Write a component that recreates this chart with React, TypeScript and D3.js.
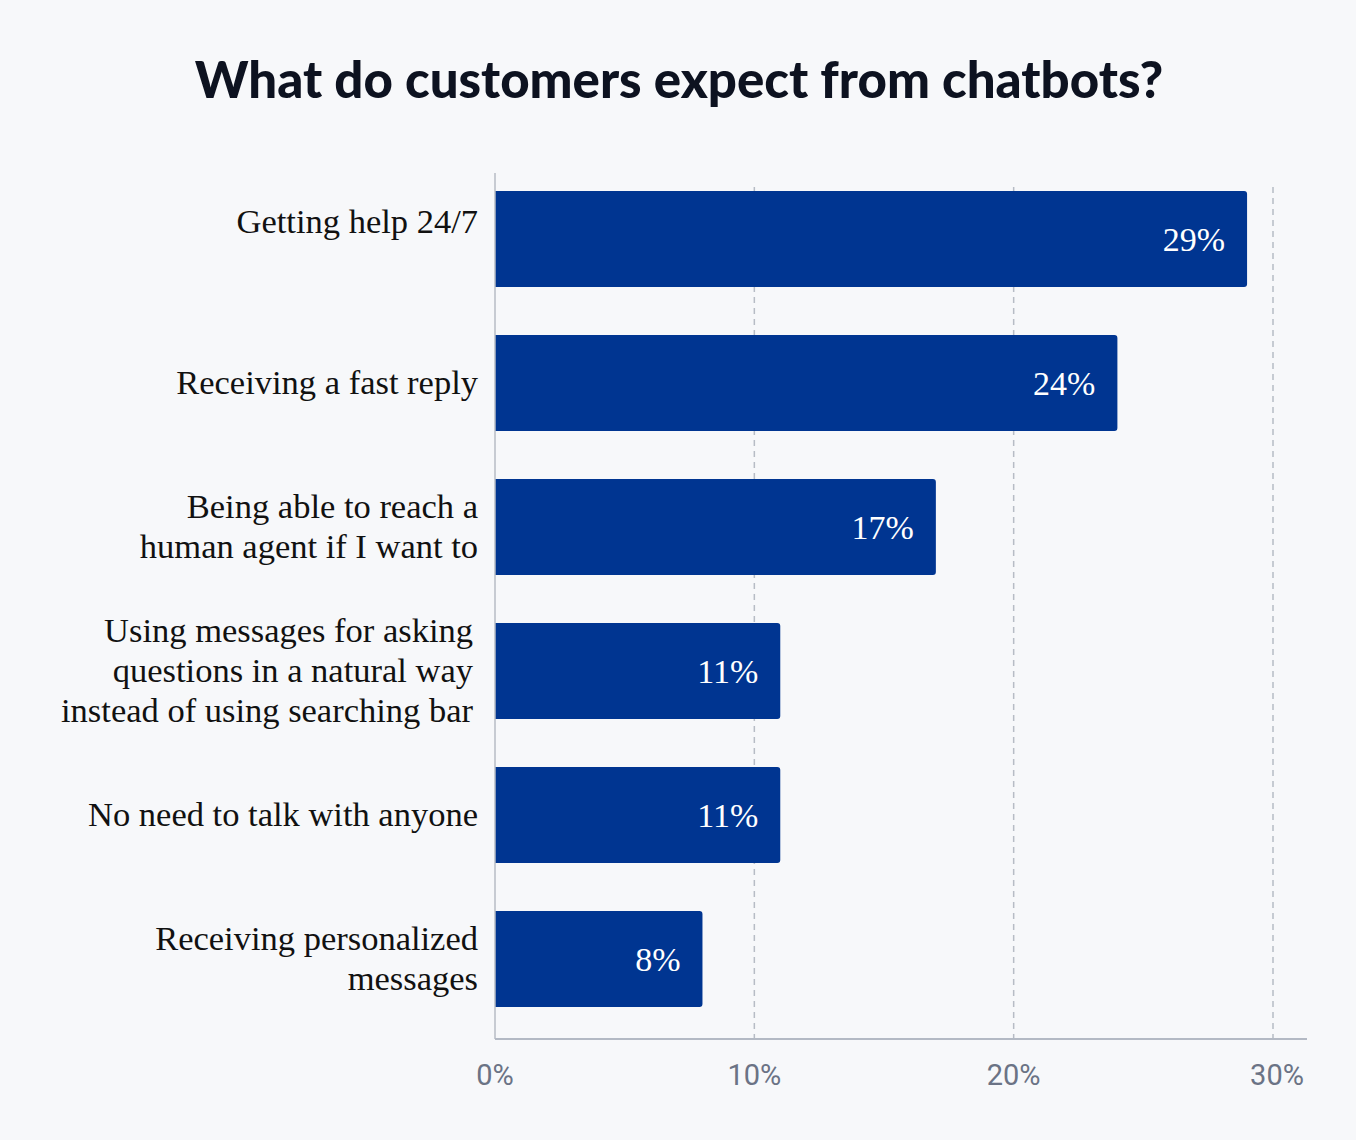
import * as d3 from "d3";

import { useEffect, useRef } from "react";

const BAR_COLOR = "#003591";
const BG_COLOR = "#f7f8fa";

const categories = [
  ["Getting help 24/7"],
  ["Receiving a fast reply"],
  ["Being able to reach a", "human agent if I want to"],
  ["Using messages for asking", "questions in a natural way", "instead of using searching bar"],
  ["No need to talk with anyone"],
  ["Receiving personalized", "messages"],
];
const values = [29, 24, 17, 11, 11, 8];
const ticks = [0, 10, 20, 30];

const App = () => {
  const svgRef = useRef(null);

  useEffect(() => {
    document.body.style.margin = "0";

    const width = 1356;
    const height = 1140;

    const svg = d3
      .select(svgRef.current)
      .attr("width", width)
      .attr("height", height);

    svg.selectAll("*").remove();

    svg
      .append("rect")
      .attr("width", width)
      .attr("height", height)
      .attr("fill", BG_COLOR);

    svg
      .append("text")
      .attr("x", 679)
      .attr("y", 98)
      .attr("text-anchor", "middle")
      .attr("font-family", "Lato")
      .attr("font-weight", 900)
      .attr("font-size", 51)
      .attr("fill", "#0d1220")
      .text("What do customers expect from chatbots?");

    const x = d3.scaleLinear([0, 30], [495, 1273]);
    const y = d3
      .scaleBand<number>()
      .domain(d3.range(values.length))
      .range([167, 1031])
      .paddingInner(1 / 3)
      .paddingOuter(1 / 6);

    const top = 173;
    const bottom = 1039;

    // dashed grid
    svg
      .selectAll(".grid")
      .data(ticks.slice(1))
      .enter()
      .append("line")
      .attr("x1", (d) => x(d))
      .attr("x2", (d) => x(d))
      .attr("y1", 187)
      .attr("y2", bottom)
      .attr("stroke", "#b7bcc5")
      .attr("stroke-width", 1.5)
      .attr("stroke-dasharray", "6 5");

    // bars, only right corners rounded
    const r = 3;
    svg
      .selectAll(".bar")
      .data(values)
      .enter()
      .append("path")
      .attr("d", (d, i) => {
        const x0 = x(0);
        const x1 = x(d);
        const y0 = y(i) as number;
        const y1 = y0 + y.bandwidth();
        return `M${x0},${y0}H${x1 - r}Q${x1},${y0} ${x1},${y0 + r}V${y1 - r}Q${x1},${y1} ${x1 - r},${y1}H${x0}Z`;
      })
      .attr("fill", BAR_COLOR);

    svg
      .selectAll(".val")
      .data(values)
      .enter()
      .append("text")
      .attr("x", (d) => x(d) - 22)
      .attr("y", (d, i) => (y(i) as number) + y.bandwidth() / 2)
      .attr("dy", "0.35em")
      .attr("text-anchor", "end")
      .attr("font-family", "Liberation Serif")
      .attr("font-size", 34)
      .attr("fill", "white")
      .text((d) => d + "%");

    // category labels
    const lineH = 40;
    categories.forEach((lines, i) => {
      const cy = (y(i) as number) + y.bandwidth() / 2 + (i === 0 ? -17 : 0);
      const t = svg
        .append("text")
        .attr("text-anchor", "end")
        .attr("font-family", "Liberation Serif")
        .attr("font-size", 34.5)
        .attr("fill", "#111111");
      lines.forEach((line, j) => {
        t.append("tspan")
          .attr("x", lines.length === 3 ? 473 : 478)
          .attr("y", cy + (j - (lines.length - 1) / 2) * lineH)
          .attr("dy", "0.33em")
          .text(line);
      });
    });

    // axes lines
    svg
      .append("line")
      .attr("x1", x(0))
      .attr("x2", x(0))
      .attr("y1", top)
      .attr("y2", bottom)
      .attr("stroke", "#b7bcc5")
      .attr("stroke-width", 1.5);

    svg
      .append("line")
      .attr("x1", x(0))
      .attr("x2", 1307)
      .attr("y1", bottom)
      .attr("y2", bottom)
      .attr("stroke", "#b3b9c4")
      .attr("stroke-width", 2);

    svg
      .selectAll(".tick")
      .data(ticks)
      .enter()
      .append("text")
      .attr("x", (d) => x(d) + (d === 30 ? 4 : 0))
      .attr("y", 1075)
      .attr("dy", "0.35em")
      .attr("text-anchor", "middle")
      .attr("font-family", "Roboto")
      .attr("font-size", 29)
      .attr("fill", "#6b7385")
      .text((d) => d + "%");
  }, []);

  return <svg ref={svgRef} style={{ display: "block" }}></svg>;
};

export default App;
